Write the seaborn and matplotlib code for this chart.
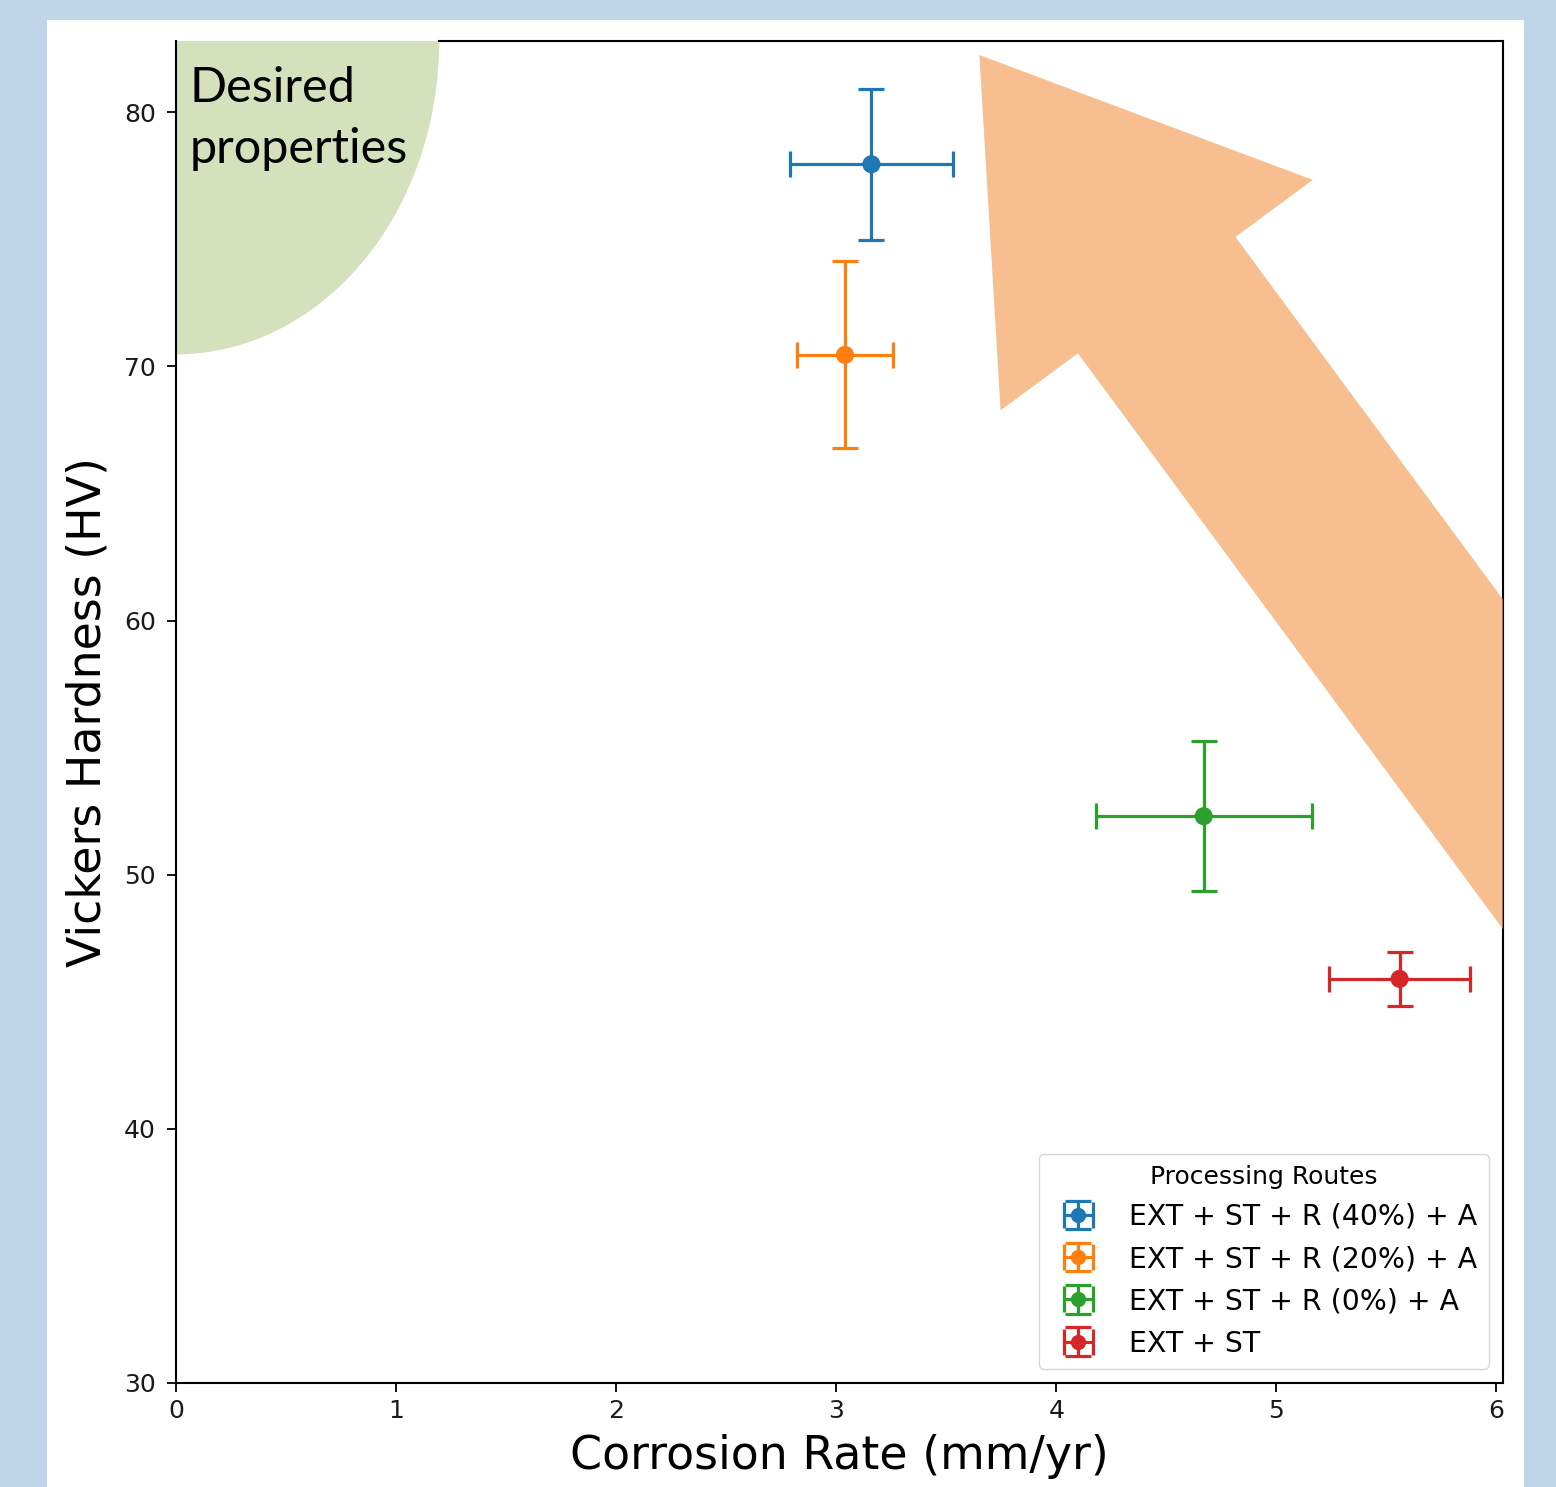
import matplotlib
matplotlib.use("Agg")
import matplotlib.pyplot as plt
import numpy as np
import pandas as pd
import seaborn as sns
from matplotlib.patches import Ellipse, FancyArrow, Rectangle
from matplotlib.transforms import Affine2D

# ---------------- data ----------------
routes = ["EXT + ST + R (40%) + A", "EXT + ST + R (20%) + A",
          "EXT + ST + R (0%) + A", "EXT + ST"]
corrosion = [3.16, 3.04, 4.67, 5.56]
corrosion_err = [0.37, 0.22, 0.49, 0.32]
hardness = [77.95, 70.45, 52.3, 45.9]
hardness_err = [2.98, 3.68, 2.95, 1.07]
colors = ["#1f77b4", "#ff7f0e", "#2ca02c", "#d62728"]
x_ticks = [0, 1, 2, 3, 4, 5, 6]
y_ticks = [30, 40, 50, 60, 70, 80]
x_limits = (0, 6.03)
y_limits = (30, 82.8)
desired_x_max = 1.196
desired_y_min = 70.47

df = pd.DataFrame({"route": routes, "corrosion": corrosion,
                   "corrosion_err": corrosion_err, "hardness": hardness,
                   "hardness_err": hardness_err})

# ---------------- style ----------------
sns.set_theme(style="ticks", rc={
    "axes.edgecolor": "black", "axes.linewidth": 1.5,
    "xtick.color": "black", "ytick.color": "black",
    "xtick.labelcolor": "#1a1a1a", "ytick.labelcolor": "#1a1a1a",
    "text.color": "black", "axes.labelcolor": "black",
    "xtick.major.size": 6.5, "ytick.major.size": 6.5,
    "xtick.major.width": 1.3, "ytick.major.width": 1.3,
})
plt.rcParams["font.family"] = ["DejaVu Sans"]

W, H = 1556, 1487
fig = plt.figure(figsize=(W / 100, H / 100), dpi=100, facecolor="#bfd6e9")
fig.add_artist(Rectangle((47 / W, 0), (1524 - 47) / W, (H - 20) / H,
                         transform=fig.transFigure, facecolor="white",
                         edgecolor="none", zorder=-1))

ax_l, ax_r, ax_t, ax_b = 176, 1503, 41, 1383
ax = fig.add_axes([ax_l / W, 1 - ax_b / H, (ax_r - ax_l) / W, (ax_b - ax_t) / H])

# desired region (quarter ellipse at the top-left corner)
ax.add_patch(Ellipse((0, y_limits[1]), 2 * desired_x_max,
                     2 * (y_limits[1] - desired_y_min),
                     facecolor="#d5e1bc", edgecolor="none", zorder=1))

# error bars
for i, r in df.iterrows():
    ax.errorbar(r["corrosion"], r["hardness"], xerr=r["corrosion_err"],
                yerr=r["hardness_err"], fmt="o", color=colors[i],
                markersize=10, elinewidth=2.3, capsize=9.6, capthick=2.3,
                label=r["route"], zorder=4)

sns.scatterplot(data=df, x="corrosion", y="hardness", hue="route",
                palette=colors, s=170, edgecolor="none", legend=False,
                ax=ax, zorder=5)

# big arrow (pixel-based coordinates relative to axes lower-left)
pw, ph = ax_r - ax_l, ax_b - ax_t
px_tr = Affine2D().scale(1 / pw, 1 / ph) + ax.transAxes
tip = (803.4, 1328.0)
tail = (1456.7, 443.0)
arrow = FancyArrow(tail[0], tail[1], tip[0] - tail[0], tip[1] - tail[1],
                   width=195.8, head_width=388.1, head_length=298.5,
                   length_includes_head=True, transform=px_tr,
                   facecolor="sandybrown", alpha=0.7, edgecolor="none",
                   zorder=3)
ax.add_patch(arrow)

ax.text(0.0105, 0.981, "Desired\nproperties", transform=ax.transAxes,
        fontsize=35, family=["Lato", "DejaVu Sans"], va="top", ha="left",
        linespacing=1.45, zorder=6)

ax.set_xlim(*x_limits)
ax.set_ylim(*y_limits)
ax.set_xticks(x_ticks)
ax.set_yticks(y_ticks)
ax.tick_params(axis="both", labelsize=18)
ax.tick_params(axis="x", pad=5)
ax.tick_params(axis="y", pad=8)
ax.spines["top"].set_bounds(desired_x_max, x_limits[1])
ax.spines["left"].set_zorder(6)
ax.set_xlabel("Corrosion Rate (mm/yr)", fontsize=33, labelpad=8)
ax.set_ylabel("Vickers Hardness (HV)", fontsize=33, labelpad=10)

leg = ax.legend(title="Processing Routes", loc="lower right",
                fontsize=20.4, title_fontsize=18, frameon=True)
leg.set_zorder(7)

fig.savefig("out.png", dpi=100, facecolor=fig.get_facecolor())
